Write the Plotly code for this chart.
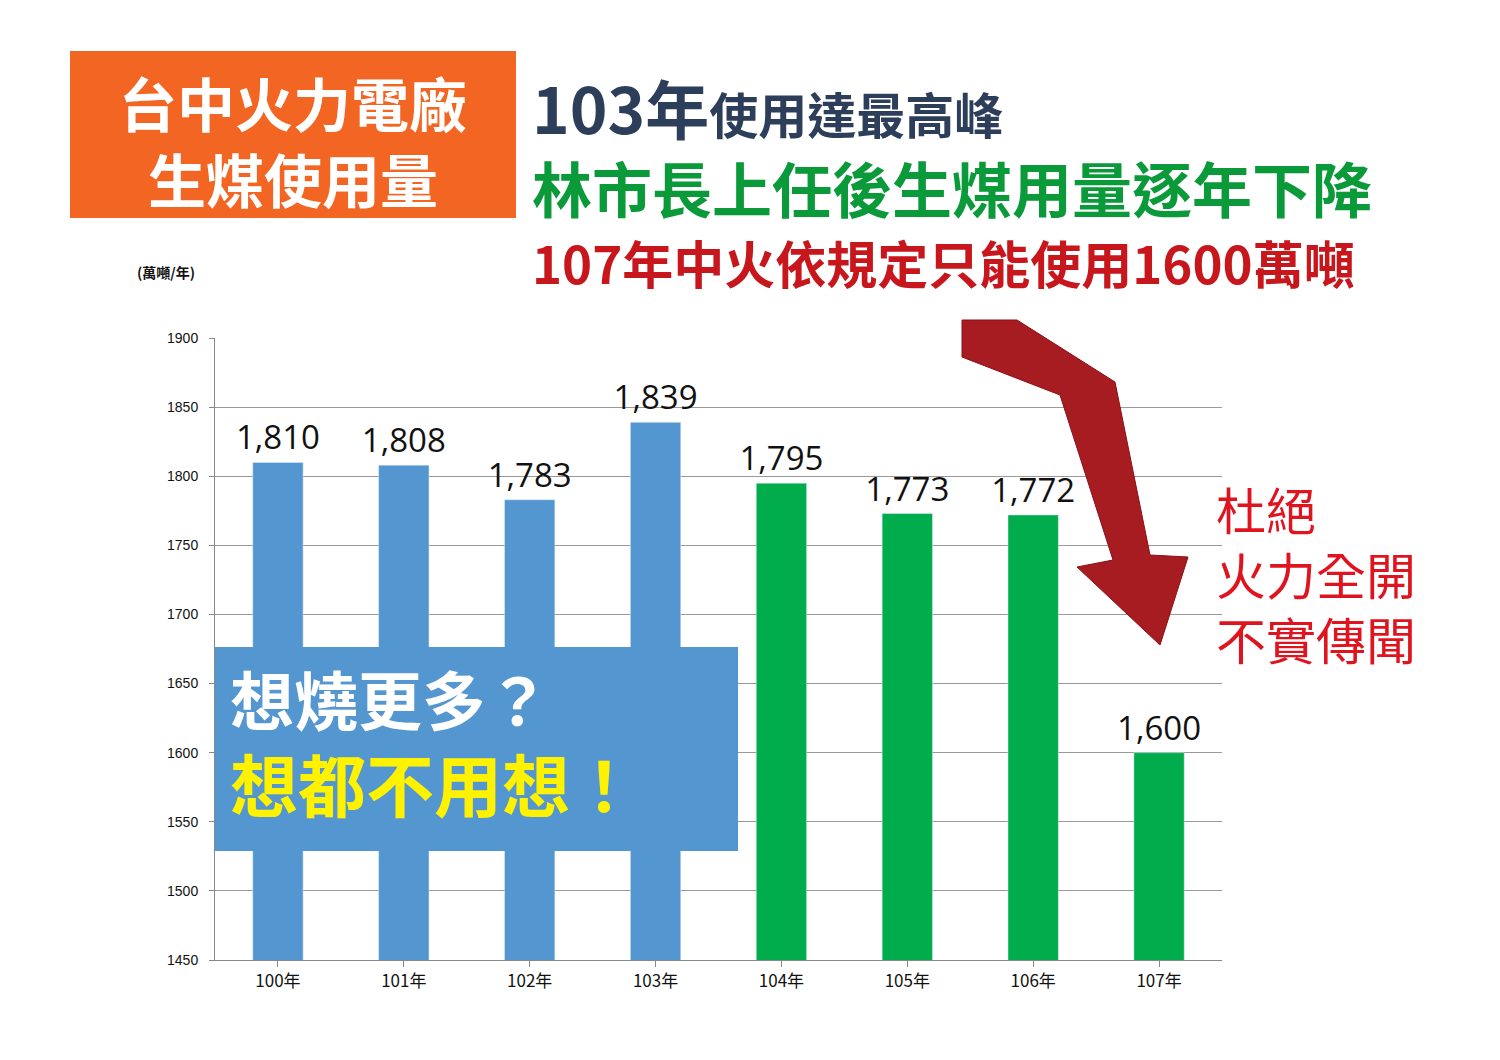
import plotly.graph_objects as go

years = ["100年","101年","102年","103年","104年","105年","106年","107年"]
values = [1810,1808,1783,1839,1795,1773,1772,1600]
labels = ["1,810","1,808","1,783","1,839","1,795","1,773","1,772","1,600"]
colors = ["#5396d0"]*4 + ["#00ac4b"]*4

OFF = 8
W, H = 1500 - 2*OFF, 1060 - 2*OFF
L, R, T, B = 215-OFF, 1222-OFF, 338-OFF, 960-OFF
def px(x): return (x-OFF-L)/(R-L)
def py(y): return (B-(y-OFF))/(B-T)

fig = go.Figure(go.Bar(x=years, y=values, marker_color=colors, width=0.4,
    text=labels, textposition="outside", constraintext="none",
    textfont=dict(size=33, color="#111", family="Open Sans"), cliponaxis=False))

CJK = "Noto Sans CJK TC"
shapes = [
    dict(type="rect", xref="paper", yref="paper", x0=px(70), x1=px(516), y0=py(218), y1=py(51),
         fillcolor="#f26522", line_width=0, layer="above"),
    dict(type="rect", xref="paper", yref="paper", x0=px(215), x1=px(738), y0=py(851), y1=py(647),
         fillcolor="#5396d0", line_width=0, layer="above"),
]
pts = [(962,320),(1017,320),(1115,382),(1150,555),(1188,557),(1160,645),(1077,567),(1113,560),(1060,395),(962,357)]
path = "M " + " L ".join(f"{px(x)},{py(y)}" for x, y in pts) + " Z"
shapes.append(dict(type="path", xref="paper", yref="paper", path=path, fillcolor="#a71c20",
                   line=dict(color="#8a1015", width=1), layer="above"))

def ann(x, y, text, size, color, anchor="left"):
    return dict(xref="paper", yref="paper", x=px(x), y=py(y), text=text, showarrow=False,
                xanchor=anchor, yanchor="middle", font=dict(family=CJK, size=size, color=color))

annotations = [
    ann(293, 102, "<b>台中火力電廠</b>", 58, "white", "center"),
    ann(293, 178, "<b>生煤使用量</b>", 58, "white", "center"),
    ann(530, 106, "<b><span style='font-size:64px'>103年</span>使用達最高峰</b>", 49, "#2d3e5a"),
    ann(530, 186, "<b>林市長上任後生煤用量逐年下降</b>", 60, "#0a9a3a"),
    ann(530, 262, "<b>107年中火依規定只能使用1600萬噸</b>", 51, "#c8161d"),
    ann(135, 272, "<b>(萬噸/年)</b>", 14, "#111"),
    ann(228, 697, "<b>想燒更多？</b>", 64, "white"),
    ann(228, 782, "<b>想都不用想！</b>", 68, "#fff200"),
    ann(1214, 508, "杜絕", 50, "#e0141e"),
    ann(1214, 573, "火力全開", 50, "#e0141e"),
    ann(1214, 638, "不實傳聞", 50, "#e0141e"),
]

fig.update_layout(
    width=W, height=H, margin=dict(l=L, r=W-R, t=T, b=H-B),
    paper_bgcolor="white", plot_bgcolor="white", showlegend=False,
    shapes=shapes, annotations=annotations, bargap=0.6,
    font=dict(family="Liberation Sans", color="#111"),
    xaxis=dict(showline=True, linecolor="#888", ticks="outside", ticklen=6, tickcolor="#888",
               tickfont=dict(size=17, family=CJK)),
    yaxis=dict(range=[1450,1900], dtick=50, showline=True, linecolor="#888", gridcolor="#999",
               ticks="outside", ticklen=5, tickcolor="#888", tickfont=dict(size=14), ticklabelstandoff=8),
)
fig.write_html("out.html")
